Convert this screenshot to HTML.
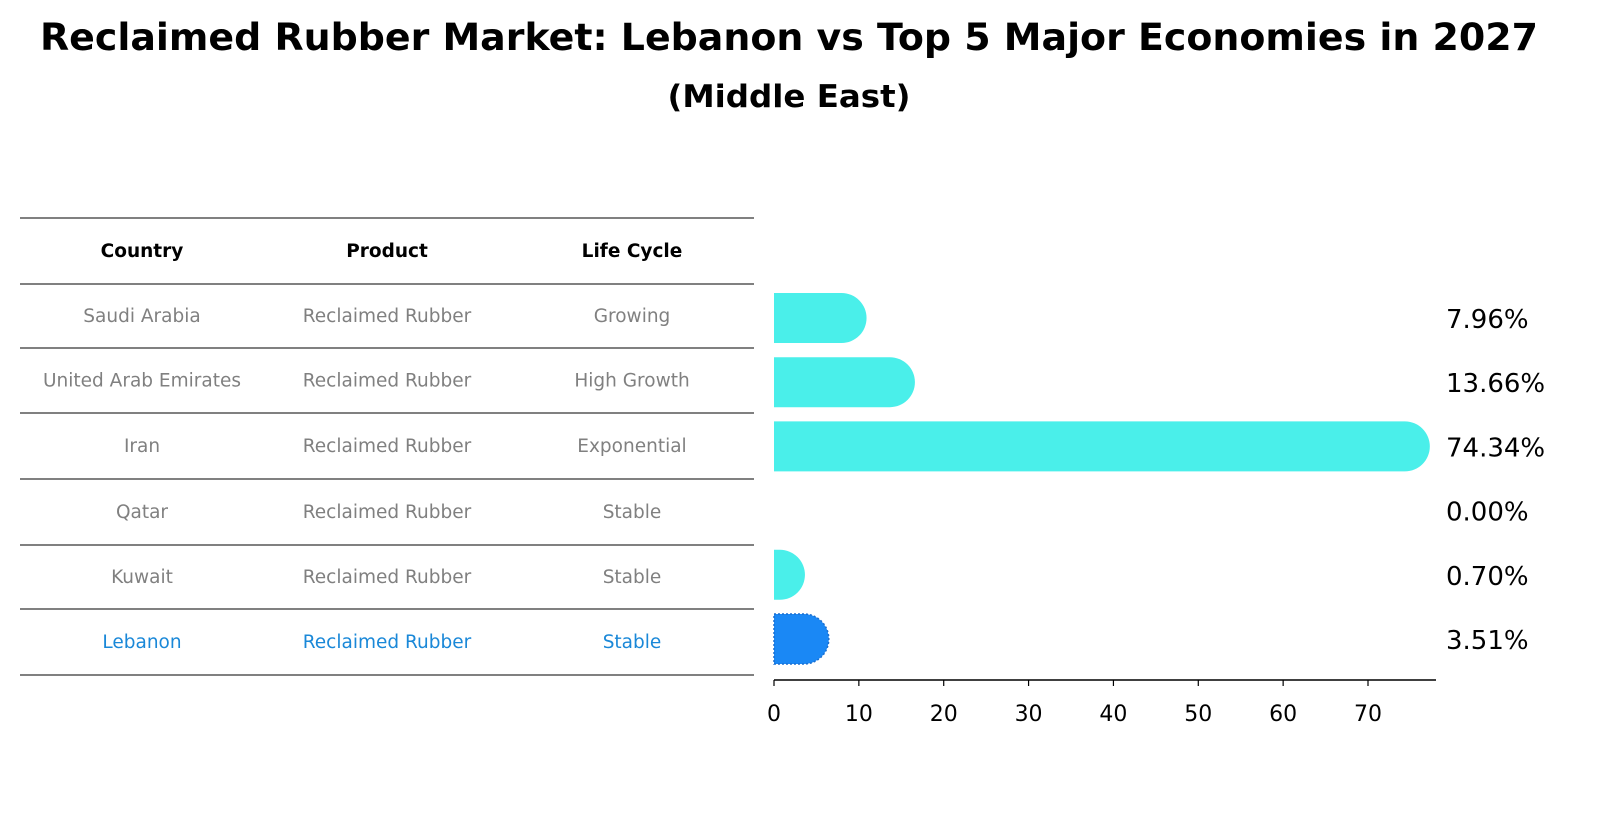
<!DOCTYPE html>
<html><head><meta charset="utf-8"><style>
body{margin:0;background:#fff;font-family:"Liberation Sans","DejaVu Sans",sans-serif}
</style></head><body>
<svg width="1604" height="823" xmlns="http://www.w3.org/2000/svg" font-family="DejaVu Sans, Liberation Sans, sans-serif">
<text x="789" y="50" text-anchor="middle" font-size="37" font-weight="bold" textLength="1498" lengthAdjust="spacingAndGlyphs">Reclaimed Rubber Market: Lebanon vs Top 5 Major Economies in 2027</text>
<text x="789" y="107" text-anchor="middle" font-size="31" font-weight="bold" textLength="243" lengthAdjust="spacingAndGlyphs">(Middle East)</text>
<g id="table"></g>
<g id="bars"></g>
<g id="axis"></g>
</svg>
<script>
const countries=["Saudi Arabia","United Arab Emirates","Iran","Qatar","Kuwait","Lebanon"];
const products=["Reclaimed Rubber","Reclaimed Rubber","Reclaimed Rubber","Reclaimed Rubber","Reclaimed Rubber","Reclaimed Rubber"];
const lifeCycles=["Growing","High Growth","Exponential","Stable","Stable","Stable"];
const shares=[7.96,13.66,74.34,0.00,0.70,3.51];
const ticks=[0,10,20,30,40,50,60,70];
const NS="http://www.w3.org/2000/svg";
function mk(t,a,p){const e=document.createElementNS(NS,t);for(const k in a)e.setAttribute(k,a[k]);p.appendChild(e);return e;}
const x0=774,pxPer=(1368-774)/70;
const xs=v=>x0+v*pxPer;
const rowY=i=>318+i*64.2;
const tb=document.getElementById('table');
const lineYs=[218,284,348,413,479,545,609,675];
lineYs.forEach((y,i)=>{const l=mk('line',{x1:20,x2:754,y1:y,y2:y,stroke:'#000','stroke-width':1},tb);

});
const colX=[142,387,632];
["Country","Product","Life Cycle"].forEach((h,j)=>{const t=mk('text',{x:colX[j],y:257,'text-anchor':'middle','font-size':18.5,'font-weight':'bold'},tb);t.textContent=h;

});
countries.forEach((c,i)=>{const y=lineYs[i+1]+(lineYs[i+2]-lineYs[i+1])/2+6;
const col=i===5?'#1a88d8':'#808080';
[c,products[i],lifeCycles[i]].forEach((v,j)=>{const t=mk('text',{x:colX[j],y:y,'text-anchor':'middle','font-size':18.5,fill:col},tb);t.textContent=v;

});});
const bg=document.getElementById('bars');
const r=25;
shares.forEach((v,i)=>{const cy=rowY(i);
if(v>0){const xe=xs(v);const col=i===5?'#1a88f5':'#4aefea';
const p=mk('path',{d:`M${x0},${cy-r} L${xe},${cy-r} A${r},${r} 0 0 1 ${xe},${cy+r} L${x0},${cy+r} Z`,fill:col},bg);
if(i===5){p.setAttribute('stroke','#1a6fd0');p.setAttribute('stroke-dasharray','2,2');p.setAttribute('stroke-width','1.5');}

}
const t=mk('text',{x:1446,y:cy+10,'font-size':26},bg);t.textContent=v.toFixed(2)+'%';

});
const ax=document.getElementById('axis');
mk('line',{x1:x0,x2:1436,y1:680,y2:680,stroke:'#000','stroke-width':1.5},ax);
ticks.forEach(v=>{const x=xs(v);mk('line',{x1:x,x2:x,y1:680,y2:686,stroke:'#000','stroke-width':1.2},ax);
const t=mk('text',{x:x,y:721,'text-anchor':'middle','font-size':22},ax);t.textContent=v;

});
</script>
</body></html>
